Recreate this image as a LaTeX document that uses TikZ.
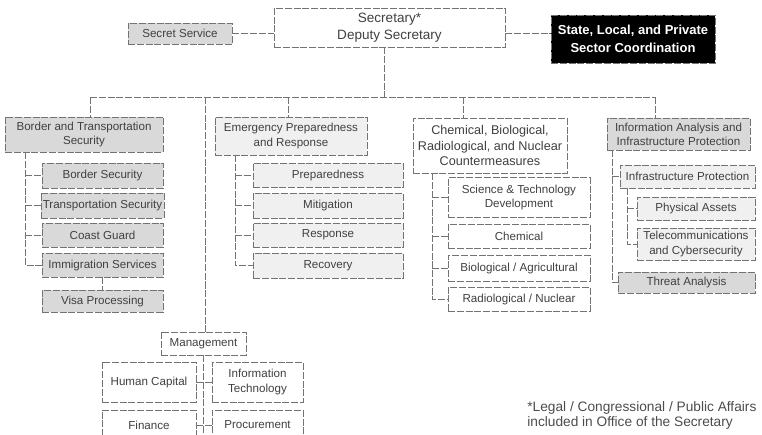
\documentclass[tikz,border=0pt]{standalone}
\usepackage{fontspec}
\setmainfont{Liberation Sans}
\usetikzlibrary{calc}

\begin{document}
\begin{tikzpicture}[x=0.02cm,y=-0.02cm,
    box/.style={draw=black!55,dash pattern=on 4pt off 1pt,line width=0.5pt,fill=white,text=black!75,
      font=\fontsize{6.6}{8}\selectfont,align=center,inner sep=1pt},
    shade/.style={box,fill=gray!30},
    light/.style={box,fill=gray!12},
    link/.style={draw=black!55,dash pattern=on 4pt off 1pt,line width=0.5pt}]
    \useasboundingbox (0,0) rectangle (762,434);
    % top level
    \node[box,minimum width=4.62cm,minimum height=0.78cm,font=\fontsize{7.7}{9.6}\selectfont] (sec) at (389.5,27.5) {Secretary*\\Deputy Secretary};
    \node[shade,minimum width=2.08cm,minimum height=0.42cm] (ss) at (180,33.5) {Secret Service};
    \node[box,fill=black,text=white,minimum width=3.28cm,minimum height=0.96cm,font=\fontsize{7.4}{10}\selectfont\bfseries] (state) at (633,39) {State, Local, and Private\\Sector Coordination};
    \draw[link] (ss.east) -- (ss.east -| sec.west);
    \draw[link] (sec.east |- ss.east) -- (ss.east -| state.west);
    % drops from the bus
    \coordinate (bus) at (384,97);
    \coordinate (dbts) at (90,97);
    \coordinate (dmgt) at (205,97);
    \coordinate (depr) at (288,97);
    \coordinate (dcbrn) at (463,97);
    \coordinate (diaip) at (655,97);
    % border and transportation security
    \node[shade,minimum width=3.16cm,minimum height=0.70cm] (bts) at (84,134.5) {Border and Transportation\\Security};
    \node[shade,minimum width=2.42cm,minimum height=0.50cm] (bsec) at (102.5,175.5) {Border Security};
    \node[shade,minimum width=2.42cm,minimum height=0.50cm] (tsec) at (102.5,205.5) {Transportation Security};
    \node[shade,minimum width=2.42cm,minimum height=0.48cm] (cg) at (102.5,235) {Coast Guard};
    \node[shade,minimum width=2.42cm,minimum height=0.48cm] (imm) at (102.5,265) {Immigration Services};
    \node[shade,minimum width=2.42cm,minimum height=0.44cm] (visa) at (102.5,301) {Visa Processing};
    % emergency preparedness and response
    \node[light,minimum width=3.04cm,minimum height=0.76cm] (epr) at (291,136) {Emergency Preparedness\\and Response};
    \node[light,minimum width=3.0cm,minimum height=0.48cm] (prep) at (328,175) {Preparedness};
    \node[light,minimum width=3.0cm,minimum height=0.50cm] (mit) at (328,205.5) {Mitigation};
    \node[light,minimum width=3.0cm,minimum height=0.48cm] (resp) at (328,235) {Response};
    \node[light,minimum width=3.0cm,minimum height=0.50cm] (rec) at (328,265.5) {Recovery};
    % chemical, biological, radiological, nuclear
    \node[box,minimum width=3.08cm,minimum height=1.1cm,font=\fontsize{7.2}{8.6}\selectfont] (cbrn) at (490,145.5) {Chemical, Biological,\\Radiological, and Nuclear\\Countermeasures};
    \node[box,minimum width=2.84cm,minimum height=0.80cm] (st) at (519,197.5) {Science \& Technology\\Development};
    \node[box,minimum width=2.84cm,minimum height=0.48cm] (chem) at (519,236.5) {Chemical};
    \node[box,minimum width=2.84cm,minimum height=0.52cm] (bio) at (519,268) {Biological / Agricultural};
    \node[box,minimum width=2.84cm,minimum height=0.48cm] (rad) at (519,299) {Radiological / Nuclear};
    % information analysis and infrastructure protection
    \node[shade,minimum width=2.86cm,minimum height=0.64cm] (iaip) at (678.5,134) {Information Analysis and\\Infrastructure Protection};
    \node[light,minimum width=2.7cm,minimum height=0.46cm] (infra) at (687.5,176.5) {Infrastructure Protection};
    \node[light,minimum width=2.36cm,minimum height=0.46cm] (phys) at (696,208.5) {Physical Assets};
    \node[light,minimum width=2.36cm,minimum height=0.64cm] (tele) at (696,244) {Telecommunications\\and Cybersecurity};
    \node[shade,minimum width=2.74cm,minimum height=0.42cm] (threat) at (686.5,282.5) {Threat Analysis};
    % management
    \node[box,minimum width=1.7cm,minimum height=0.46cm] (mgt) at (203.5,343.5) {Management};
    \node[box,minimum width=1.88cm,minimum height=0.80cm] (hc) at (149,382) {Human Capital};
    \node[box,minimum width=1.82cm,minimum height=0.80cm] (it) at (257.5,382) {Information\\Technology};
    \node[box,minimum width=1.88cm,minimum height=0.60cm] (fin) at (149,425) {Finance};
    \node[box,minimum width=1.82cm,minimum height=0.60cm] (proc) at (257.5,425) {Procurement};
    % connectors
    \draw[link] (sec.south -| bus) -- (bus);
    \draw[link] (dbts) -- (diaip);
    \draw[link] (dbts) -- (dbts |- bts.north);
    \draw[link] (depr) -- (depr |- epr.north);
    \draw[link] (dcbrn) -- (dcbrn |- cbrn.north);
    \draw[link] (diaip) -- (diaip |- iaip.north);
    \draw[link] (dmgt) -- (dmgt |- mgt.north);
    \draw[link] (bts.south -| 25,0) |- (imm.west);
    \foreach \n in {bsec,tsec,cg} \draw[link] (\n.west -| 25,0) -- (\n.west);
    \draw[link] (imm.south) -- (visa.north);
    \draw[link] (epr.south -| 235,0) |- (rec.west);
    \foreach \n in {prep,mit,resp} \draw[link] (\n.west -| 235,0) -- (\n.west);
    \draw[link] (cbrn.south -| 432,0) |- (rad.west);
    \foreach \n in {st,chem,bio} \draw[link] (\n.west -| 432,0) -- (\n.west);
    \draw[link] (iaip.south -| 612,0) |- (threat.west);
    \draw[link] (infra.west -| 612,0) -- (infra.west);
    \draw[link] (infra.south -| 627,0) |- (tele.west);
    \draw[link] (phys.west -| 627,0) -- (phys.west);
    \draw[link] (mgt.south) -- (mgt.south |- 0,434);
    \draw[link] (hc.east) -- (it.west);
    \draw[link] (fin.east) -- (proc.west);
    % footnote
    \node[anchor=north west,align=left,inner sep=0pt,text=black!70,font=\fontsize{7.8}{8.6}\selectfont] (note) at (527,401) {*Legal / Congressional / Public Affairs\\included in Office of the Secretary};
\end{tikzpicture}
\end{document}
